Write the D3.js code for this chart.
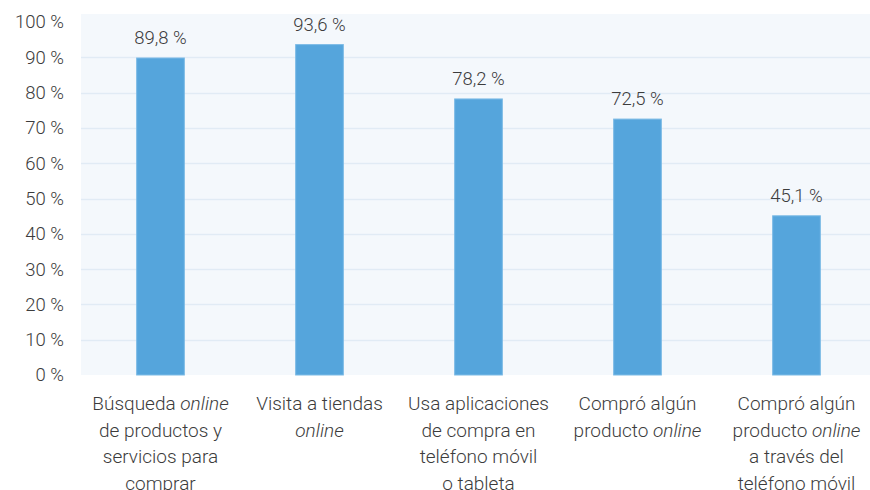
<!DOCTYPE html>
<html>
<head>
<meta charset="utf-8">
<script src="https://cdn.jsdelivr.net/npm/d3@7"></script>
<style>
  body { margin: 0; background: #fff; }
  text { font-family: Roboto, "Open Sans", sans-serif; font-weight: 300; fill: #3c3c3c; }
</style>
</head>
<body>
<div id="chart"></div>
<script>
// categories, each as lines of [text, italic] parts
var categories = [
  [[["Búsqueda ", 0], ["online", 1]], [["de productos y", 0]], [["servicios para", 0]], [["comprar", 0]]],
  [[["Visita a tiendas", 0]], [["online", 1]]],
  [[["Usa aplicaciones", 0]], [["de compra en", 0]], [["teléfono móvil", 0]], [["o tableta", 0]]],
  [[["Compró algún", 0]], [["producto ", 0], ["online", 1]]],
  [[["Compró algún", 0]], [["producto ", 0], ["online", 1]], [["a través del", 0]], [["teléfono móvil", 0]]]
]
var values = [89.8, 93.6, 78.2, 72.5, 45.1]
var yTicks = [0, 10, 20, 30, 40, 50, 60, 70, 80, 90, 100]

var width = 870, height = 490
var plotLeft = 81, plotRight = 876, plotTop = 14, yTop = 22, yBottom = 375

var svg = d3.select("#chart")
  .append("svg")
  .attr("width", width)
  .attr("height", height)

var x = d3.scaleBand()
  .domain(d3.range(values.length))
  .range([plotLeft, plotRight])
  .paddingInner(0.7)
  .paddingOuter(0.35)

var y = d3.scaleLinear()
  .domain([0, 100])
  .range([yBottom, yTop])

// plot background
svg.append("rect")
  .attr("x", plotLeft)
  .attr("y", plotTop)
  .attr("width", width - plotLeft)
  .attr("height", yBottom - plotTop)
  .attr("fill", "#f4f8fc")

// gridlines
svg.selectAll(".grid")
  .data(yTicks.filter(function (d) { return d > 0 && d < 100 }))
  .enter()
  .append("line")
  .attr("x1", plotLeft)
  .attr("x2", width)
  .attr("y1", function (d) { return Math.round(y(d)) + 0.5 })
  .attr("y2", function (d) { return Math.round(y(d)) + 0.5 })
  .attr("stroke", "#e1ebf5")
  .attr("stroke-width", 1.5)

// y axis labels
svg.append("g")
  .attr("transform", "translate(64,0)")
  .call(d3.axisLeft(y).tickValues(yTicks).tickSize(0).tickPadding(0)
    .tickFormat(function (d) { return d + " %" }))
  .call(function (g) { g.select(".domain").remove() })
  .selectAll("text")
  .attr("font-size", 18.5)
  .attr("font-family", null)
  .attr("fill", null)

// bars
svg.selectAll(".bar")
  .data(values)
  .enter()
  .append("rect")
  .attr("x", function (d, i) { return x(i) })
  .attr("y", function (d) { return y(d) })
  .attr("width", x.bandwidth())
  .attr("height", function (d) { return y(0) - y(d) })
  .attr("fill", "#55a5dc")
  .attr("stroke", "#7dbbe6")
  .attr("stroke-width", 1)

// value labels
svg.selectAll(".val")
  .data(values)
  .enter()
  .append("text")
  .attr("x", function (d, i) { return x(i) + x.bandwidth() / 2 })
  .attr("y", function (d) { return y(d) - 14 })
  .attr("text-anchor", "middle")
  .attr("font-size", 18.5)
  .text(function (d) { return d.toFixed(1).replace(".", ",") + " %" })

// category labels
categories.forEach(function (lines, i) {
  var t = svg.append("text")
    .attr("text-anchor", "middle")
    .attr("font-size", 19)
  lines.forEach(function (parts, j) {
    parts.forEach(function (p, k) {
      var ts = t.append("tspan")
        .text(p[0])
        .style("font-style", p[1] ? "italic" : "normal")
      if (k === 0) {
        ts.attr("x", x(i) + x.bandwidth() / 2)
          .attr("y", 410 + j * 26.5)
      }
    })
  })
})
</script>
</body>
</html>
